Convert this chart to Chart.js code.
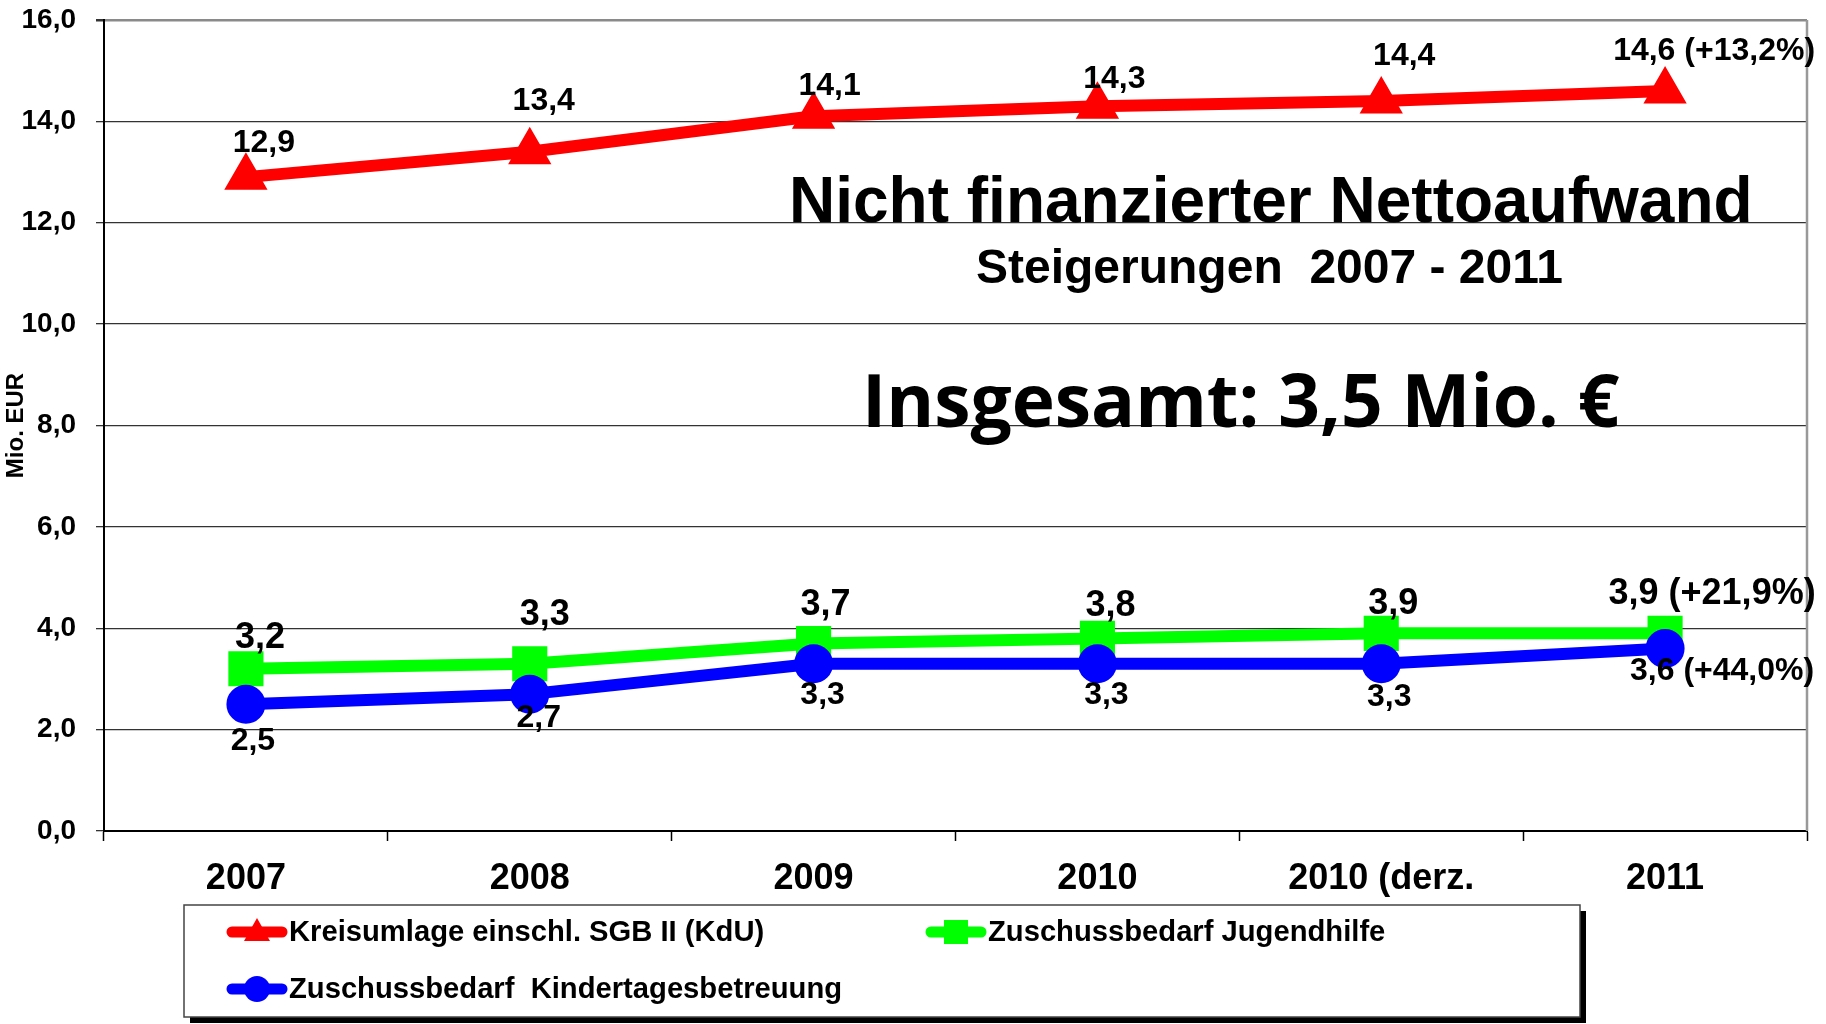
<!DOCTYPE html>
<html lang="de">
<head>
<meta charset="utf-8">
<title>Nicht finanzierter Nettoaufwand</title>
<script src="https://cdn.jsdelivr.net/npm/chart.js@4.4.1/dist/chart.umd.min.js"></script>
<style>
  html, body { margin: 0; padding: 0; background: #fff; }
  #wrap { width: 1826px; height: 1024px; position: relative; }
</style>
</head>
<body>
<div id="wrap"><canvas id="chart"></canvas></div>
<script>
const categories = ['2007', '2008', '2009', '2010', '2010 (derz.', '2011'];
const kreisumlage = [12.9, 13.4, 14.1, 14.3, 14.4, 14.6];
const jugendhilfe = [3.2, 3.3, 3.7, 3.8, 3.9, 3.9];
const kita = [2.5, 2.7, 3.3, 3.3, 3.3, 3.6];
const changeKreisumlage = '+13,2%';
const changeJugendhilfe = '+21,9%';
const changeKita = '+44,0%';
const yMin = 0, yMax = 16, yStep = 2;

const FONT = '"Liberation Sans", Arial, sans-serif';

function fmt(v) {
  return v.toFixed(1).replace('.', ',');
}

function withChange(values, change) {
  return values.map((v, i) => i === values.length - 1 ? `${fmt(v)} (${change})` : fmt(v));
}

// label offsets (px) from each point, hand placed like the original
const labelStyle = {
  0: { size: 32, off: [[18, -34], [14, -51], [16, -30], [17, -27], [23, -45], [49, -40]] },
  1: { size: 36, off: [[14, -31], [15, -49], [12, -38], [13, -32], [12, -29], [47, -39]] },
  2: { size: 32, off: [[7, 37], [9, 24], [9, 31], [9, 31], [8, 33], [57, 23]] }
};

const dataLabels = {
  id: 'dataLabels',
  afterDatasetsDraw(chart) {
    const ctx = chart.ctx;
    chart.data.datasets.forEach((ds, di) => {
      const meta = chart.getDatasetMeta(di);
      const st = labelStyle[di];
      ctx.save();
      ctx.font = `bold ${st.size}px ${FONT}`;
      ctx.fillStyle = '#000';
      ctx.textAlign = 'center';
      ctx.textBaseline = 'middle';
      meta.data.forEach((pt, i) => {
        const [dx, dy] = st.off[i];
        ctx.fillText(ds.labelTexts[i], pt.x + dx, pt.y + dy);
      });
      ctx.restore();
    });
  }
};

const frameAndTitles = {
  id: 'frameAndTitles',
  beforeDatasetsDraw(chart) {
    const { ctx, chartArea: a } = chart;
    ctx.save();
    ctx.strokeStyle = '#999';
    ctx.lineWidth = 2.5;
    ctx.beginPath();
    ctx.moveTo(a.right, a.top);
    ctx.lineTo(a.right, a.bottom);
    ctx.stroke();
    ctx.restore();

    ctx.save();
    ctx.fillStyle = '#000';
    ctx.textAlign = 'left';
    ctx.textBaseline = 'alphabetic';
    ctx.font = `bold 64px ${FONT}`;
    ctx.fillText('Nicht finanzierter Nettoaufwand', 789, 222);
    ctx.font = `bold 48px ${FONT}`;
    ctx.fillText('Steigerungen  2007 - 2011', 976, 283);
    ctx.font = 'bold 73px "Open Sans", Lato, sans-serif';
    ctx.fillText('Insgesamt: 3,5 Mio. €', 862, 427);
    ctx.restore();
  },
  afterDraw(chart) {
    const ctx = chart.ctx;
    const bx = 184, by = 905, bw = 1396, bh = 112;
    ctx.save();
    ctx.fillStyle = '#000';
    ctx.fillRect(bx + 6, by + 6, bw, bh);
    ctx.fillStyle = '#fff';
    ctx.fillRect(bx, by, bw, bh);
    ctx.strokeStyle = '#444';
    ctx.lineWidth = 1.5;
    ctx.strokeRect(bx, by, bw, bh);

    const items = [
      { x: 227, y: 932, ds: 0 },
      { x: 926, y: 932, ds: 1 },
      { x: 227, y: 989, ds: 2 }
    ];
    items.forEach(it => {
      const ds = chart.data.datasets[it.ds];
      const c = ds.borderColor;
      ctx.strokeStyle = c;
      ctx.fillStyle = c;
      ctx.lineWidth = 11;
      ctx.lineCap = 'round';
      ctx.beginPath();
      ctx.moveTo(it.x + 5, it.y);
      ctx.lineTo(it.x + 55, it.y);
      ctx.stroke();
      const cx = it.x + 30, cy = it.y;
      ctx.beginPath();
      if (ds.pointStyle === 'triangle') {
        ctx.moveTo(cx, cy - 14);
        ctx.lineTo(cx + 13, cy + 9);
        ctx.lineTo(cx - 13, cy + 9);
        ctx.closePath();
      } else if (ds.pointStyle === 'rect') {
        ctx.rect(cx - 12, cy - 12, 24, 24);
      } else {
        ctx.arc(cx, cy, 13, 0, Math.PI * 2);
      }
      ctx.fill();
      ctx.fillStyle = '#000';
      ctx.font = `bold 29.2px ${FONT}`;
      ctx.textAlign = 'left';
      ctx.textBaseline = 'middle';
      ctx.fillText(ds.label, it.x + 62, it.y + 1);
    });
    ctx.restore();
  }
};

new Chart(document.getElementById('chart').getContext('2d'), {
  type: 'line',
  data: {
    labels: categories,
    datasets: [
      {
        label: 'Kreisumlage einschl. SGB II (KdU)',
        data: kreisumlage,
        labelTexts: withChange(kreisumlage, changeKreisumlage),
        borderColor: '#ff0000',
        backgroundColor: '#ff0000',
        pointStyle: 'triangle',
        pointRadius: 21,
        pointBorderWidth: 4,
        order: 0
      },
      {
        label: 'Zuschussbedarf Jugendhilfe',
        data: jugendhilfe,
        labelTexts: withChange(jugendhilfe, changeJugendhilfe),
        borderColor: '#00ff00',
        backgroundColor: '#00ff00',
        pointStyle: 'rect',
        pointRadius: 22,
        pointBorderWidth: 4,
        order: 2
      },
      {
        label: 'Zuschussbedarf  Kindertagesbetreuung',
        data: kita,
        labelTexts: withChange(kita, changeKita),
        borderColor: '#0000ff',
        backgroundColor: '#0000ff',
        pointStyle: 'circle',
        pointRadius: 18,
        pointBorderWidth: 3,
        order: 1
      }
    ].map(d => Object.assign({
      borderWidth: 12,
      tension: 0,
      fill: false,
      borderCapStyle: 'round',
      borderJoinStyle: 'round',
      pointBorderColor: d.borderColor,
      pointBackgroundColor: d.borderColor,
      pointHoverRadius: d.pointRadius
    }, d))
  },
  options: {
    responsive: true,
    maintainAspectRatio: false,
    animation: false,
    layout: { autoPadding: false, padding: { left: 0, right: 19, top: 20, bottom: 123 } },
    plugins: {
      legend: { display: false },
      tooltip: { enabled: false }
    },
    scales: {
      x: {
        offset: true,
        grid: {
          offset: true,
          drawOnChartArea: false,
          tickLength: 10,
          tickColor: '#000',
          tickWidth: 1.5
        },
        border: { color: '#000', width: 2 },
        ticks: {
          color: '#000',
          font: { family: FONT, size: 36, weight: 'bold' },
          padding: 16,
          autoSkip: false,
          maxRotation: 0
        },
        afterFit(scale) {
          scale.height = 70;
          scale.paddingLeft = 0;
          scale.paddingRight = 0;
        }
      },
      y: {
        min: yMin,
        max: yMax,
        grid: {
          color: c => c.tick && c.tick.value === yMax ? '#8a8a8a' : '#333',
          lineWidth: c => c.tick && c.tick.value === yMax ? 2.5 : 1.3,
          tickLength: 8,
          tickColor: '#333'
        },
        border: { color: '#000', width: 2 },
        ticks: {
          stepSize: yStep,
          color: '#000',
          font: { family: FONT, size: 28, weight: 'bold' },
          padding: 20,
          callback: v => fmt(v)
        },
        title: {
          display: true,
          text: 'Mio. EUR',
          color: '#000',
          font: { family: FONT, size: 24, weight: 'bold' },
          padding: { top: 2, bottom: 0 }
        },
        afterFit(scale) {
          scale.width = 104;
          scale.paddingTop = 0;
          scale.paddingBottom = 0;
        }
      }
    }
  },
  plugins: [frameAndTitles, dataLabels]
});
</script>
</body>
</html>
